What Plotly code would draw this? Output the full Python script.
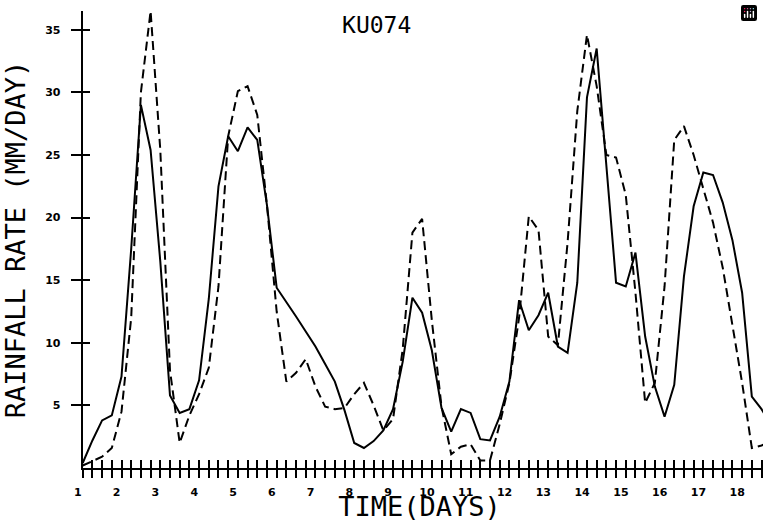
import plotly.graph_objects as go

# 6-hourly sample times (days)
time_days = [1.125 + 0.25 * k for k in range(72)]

observed = [0.4, 2.2, 3.8, 4.2, 7.3, 17.5, 29.0, 25.4, 16.5, 5.8,
            4.4, 4.7, 7.0, 13.5, 22.5, 26.5, 25.3, 27.2, 26.2, 21.0,
            14.4, 13.3, 12.1, 10.9, 9.7, 8.3, 6.9, 4.6, 2.0, 1.6,
            2.15, 3.0, 4.7, 8.5, 13.6, 12.4, 9.4, 4.8, 2.9, 4.7,
            4.4, 2.3, 2.2, 4.1, 6.9, 13.4, 11.0, 12.2, 14.0, 9.7,
            9.2, 14.8, 29.6, 33.5, 24.0, 14.8, 14.5, 17.2, 10.5, 6.5,
            4.1, 6.65, 15.3, 20.9, 23.6, 23.4, 21.2, 18.2, 14.0, 5.7,
            4.7, 3.4]

model = [0.2, 0.55, 0.9, 1.6, 4.5, 12.0, 30.0, 36.5, 25.4, 7.8,
         2.0, 4.2, 5.9, 8.0, 14.5, 26.5, 30.1, 30.5, 28.2, 21.0,
         12.5, 6.9, 7.6, 8.7, 6.5, 4.9, 4.7, 4.8, 5.9, 6.8,
         5.0, 3.0, 3.9, 9.5, 18.8, 19.9, 11.8, 4.9, 1.1, 1.7,
         1.9, 0.6, 0.6, 3.5, 6.8, 12.0, 20.1, 19.0, 10.5, 9.8,
         18.0, 28.5, 34.6, 30.5, 25.0, 24.8, 21.8, 14.0, 5.2, 6.8,
         14.5, 26.2, 27.3, 25.0, 22.2, 19.6, 16.0, 11.5, 6.8, 1.6,
         1.8, 2.1]

day_ticks = list(range(1, 19))
rate_ticks = [5, 10, 15, 20, 25, 30, 35]

X_LO, X_START, X_HI = 0.952, 1.125, 18.663
Y_MAX = 36.5
dom_start = (X_START - X_LO) / (X_HI - X_LO)

tick_font = dict(family="DejaVu Sans", size=11, color="black", weight="bold")
title_font = dict(family="DejaVu Sans Mono", size=27, color="black")

fig = go.Figure()
# empty trace so the full-width day-label axis gets drawn
fig.add_trace(go.Scatter(x=[], y=[], xaxis="x", yaxis="y", mode="lines",
                         showlegend=False, hoverinfo="skip"))
fig.add_trace(go.Scatter(x=time_days, y=observed, mode="lines", xaxis="x2", yaxis="y",
                         line=dict(color="black", width=2), showlegend=False))
fig.add_trace(go.Scatter(x=time_days, y=model, mode="lines", xaxis="x2", yaxis="y",
                         line=dict(color="black", width=2, dash="9px,5px"), showlegend=False))
# empty traces so that the inside-tick axes get drawn
for xa, ya in (("x3", "y"), ("x2", "y2")):
    fig.add_trace(go.Scatter(x=[], y=[], xaxis=xa, yaxis=ya, mode="lines",
                             showlegend=False, hoverinfo="skip"))

fig.update_layout(
    width=763, height=522,
    margin=dict(l=76, r=0, t=11, b=54, autoexpand=False),
    paper_bgcolor="white", plot_bgcolor="white",
    showlegend=False,
    modebar=dict(bgcolor="rgba(0,0,0,0)", color="rgba(0,0,0,0)",
                 activecolor="rgba(0,0,0,0)"),
    title=dict(text="KU074", x=(376.7 - 76) / 687, xref="paper", xanchor="center",
               y=1 - 25 / 522, yanchor="middle",
               font=dict(family="DejaVu Sans Mono", size=23, color="black")),
    # day-label axis spanning full width (labels only)
    xaxis=dict(domain=[0, 1], range=[X_LO, X_HI], anchor="y",
               tickmode="array", tickvals=day_ticks, ticktext=[str(d) for d in day_ticks],
               ticks="", showline=False, showgrid=False, zeroline=False,
               tickfont=tick_font, ticklabelstandoff=16,
               title=dict(text="TIME(DAYS)", font=title_font, standoff=4)),
    # data axis: line with minor ticks (outside), starting at the y axis
    xaxis2=dict(domain=[dom_start, 1], range=[X_START, X_HI], anchor="y",
                tickmode="linear", tick0=X_START, dtick=0.25,
                ticks="outside", ticklen=8, tickwidth=2, tickcolor="black",
                showline=True, linecolor="black", linewidth=2,
                showticklabels=False, showgrid=False, zeroline=False),
    # same ticks inside, so they cross the axis line
    xaxis3=dict(overlaying="x2", domain=[dom_start, 1], range=[X_START, X_HI], anchor="y",
                tickmode="linear", tick0=X_START, dtick=0.25,
                ticks="inside", ticklen=8, tickwidth=2, tickcolor="black",
                showline=False, showticklabels=False, showgrid=False, zeroline=False),
    yaxis=dict(domain=[0, 1], range=[0, Y_MAX], anchor="x2",
               tickmode="array", tickvals=rate_ticks, ticktext=[str(v) for v in rate_ticks],
               ticks="outside", ticklen=10, tickwidth=2, tickcolor="black",
               showline=True, linecolor="black", linewidth=2,
               showgrid=False, zeroline=False,
               tickfont=tick_font, ticklabelstandoff=8,
               title=dict(text="RAINFALL RATE (MM/DAY)", font=title_font, standoff=12)),
    yaxis2=dict(overlaying="y", range=[0, Y_MAX], anchor="x2",
                tickmode="array", tickvals=rate_ticks,
                ticks="inside", ticklen=7, tickwidth=2, tickcolor="black",
                showline=False, showticklabels=False, showgrid=False, zeroline=False),
)

fig.write_html("out.html", post_script="document.body.style.margin='0';document.body.style.overflow='hidden';")
